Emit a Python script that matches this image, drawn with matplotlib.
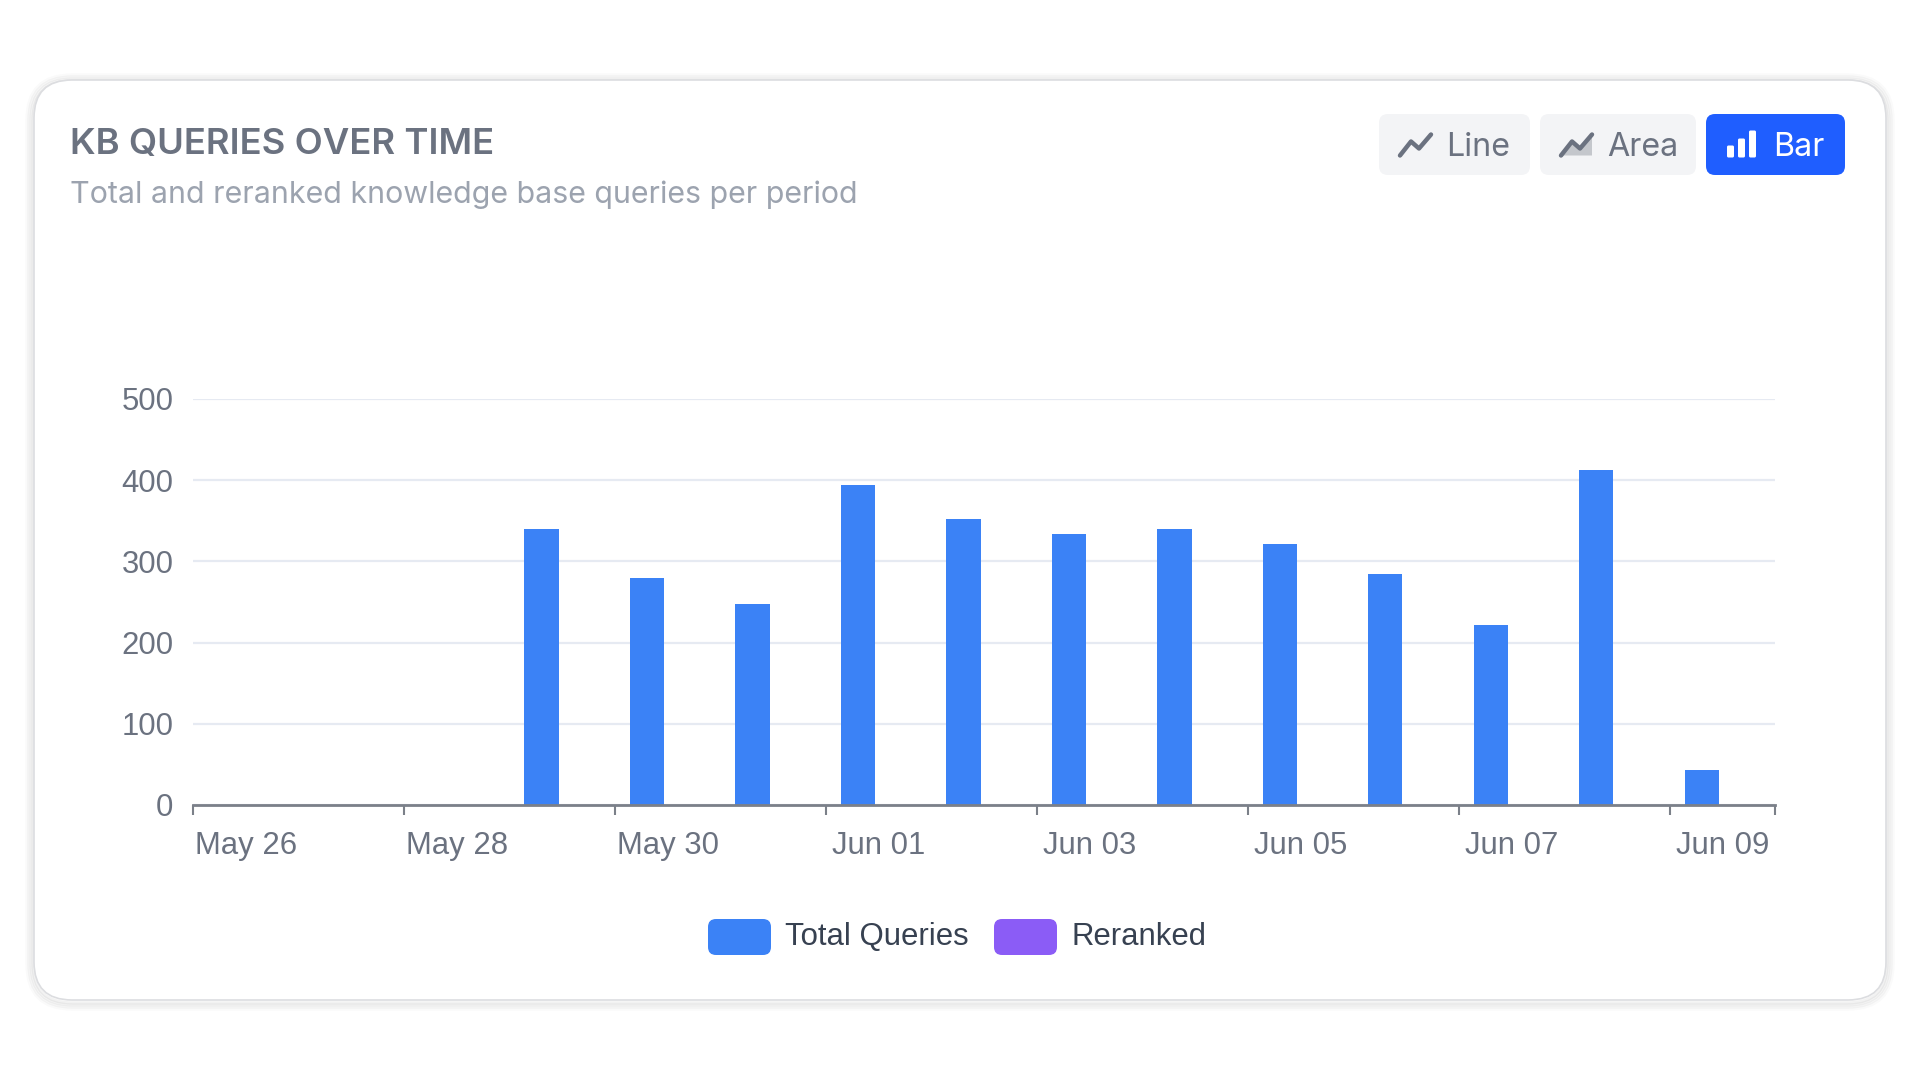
import matplotlib
matplotlib.use("Agg")
import matplotlib.pyplot as plt
from matplotlib.patches import FancyBboxPatch, Rectangle, Polygon
import numpy as np

# ---------------- data ----------------
dates = ["May 26", "May 27", "May 28", "May 29", "May 30", "May 31", "Jun 01",
         "Jun 02", "Jun 03", "Jun 04", "Jun 05", "Jun 06", "Jun 07", "Jun 08", "Jun 09"]
total_queries = [0, 0, 0, 340, 279, 248, 394, 352, 334, 340, 321, 285, 222, 412, 43]
reranked = [0, 0, 0, 0, 0, 0, 0, 0, 0, 0, 0, 0, 0, 0, 0]
series_names = ["Total Queries", "Reranked"]
series_colors = ["#3b82f6", "#8b5cf6"]
y_ticks = [0, 100, 200, 300, 400, 500]
title = "KB QUERIES OVER TIME"
subtitle = "Total and reranked knowledge base queries per period"
buttons = ["Line", "Area", "Bar"]

W, H = 1920, 1080
fig = plt.figure(figsize=(W / 100, H / 100), dpi=100)
fig.patch.set_facecolor("white")

# background axes in pixel coordinates
bg = fig.add_axes([0, 0, 1, 1], zorder=0)
bg.set_xlim(0, W)
bg.set_ylim(H, 0)
bg.axis("off")

# card with soft shadow
cx0, cy0, cx1, cy1 = 34, 80, 1886, 1000
for i, a in enumerate([0.05, 0.04, 0.03, 0.02]):
    off = 1 + i * 2
    bg.add_patch(FancyBboxPatch((cx0 - off, cy0 - off + 2), cx1 - cx0 + 2 * off, cy1 - cy0 + 2 * off,
                                boxstyle="round,pad=0,rounding_size=%d" % (38 + off),
                                fc="none", ec=(0, 0, 0, a), lw=2.5))
bg.add_patch(FancyBboxPatch((cx0, cy0), cx1 - cx0, cy1 - cy0,
                            boxstyle="round,pad=0,rounding_size=38",
                            fc="white", ec="#dcdde0", lw=1.2))

# title + subtitle
bg.text(70, 145, title, fontsize=26.3, family="Inter", fontweight="semibold",
        color="#6b7280", va="center", ha="left")
bg.text(70, 195, subtitle, fontsize=21.9, family="Inter",
        color="#9ca3af", va="center", ha="left")

# buttons
btn_boxes = [(1379, 1530), (1540, 1696), (1706, 1845)]
by0, by1 = 114, 175
for name, (x0, x1) in zip(buttons, btn_boxes):
    active = name == "Bar"
    bg.add_patch(FancyBboxPatch((x0, by0), x1 - x0, by1 - by0,
                                boxstyle="round,pad=0,rounding_size=9",
                                fc="#1f5eff" if active else "#f3f4f6", ec="none"))
    col = "white" if active else "#6b7280"
    ic_x = x0 + 21
    yc = (by0 + by1) / 2
    if name == "Line":
        bg.plot([ic_x, ic_x + 11, ic_x + 19, ic_x + 31], [yc + 11, yc - 3, yc + 4, yc - 10],
                color=col, lw=3.2, solid_capstyle="round", solid_joinstyle="round")
    elif name == "Area":
        pts = [(ic_x, yc + 11), (ic_x + 11, yc - 3), (ic_x + 19, yc + 4), (ic_x + 31, yc - 10)]
        bg.add_patch(Polygon(pts + [(ic_x + 31, yc + 11)], closed=True, fc="#c4c7cc", ec="none"))
        bg.plot([p[0] for p in pts], [p[1] for p in pts],
                color=col, lw=3.2, solid_capstyle="round", solid_joinstyle="round")
    else:
        for k, h in enumerate([12, 19, 27]):
            bg.add_patch(FancyBboxPatch((ic_x + k * 11, yc + 13 - h), 7, h,
                                        boxstyle="round,pad=0,rounding_size=1.5", fc=col, ec="none"))
    bg.text(ic_x + 46, yc + 3, name, fontsize=23.2, family="Inter", color=col,
            va="center", ha="left")

# ---------------- chart axes ----------------
ax_l, ax_r, ax_t, ax_b = 193, 1775, 399, 805
ax = fig.add_axes([ax_l / W, 1 - ax_b / H, (ax_r - ax_l) / W, (ax_b - ax_t) / H], zorder=2)
ax.patch.set_alpha(0)

x = np.arange(len(dates))
bar_w = 0.326
ax.bar(x + 0.142, total_queries, width=bar_w, align="edge", color=series_colors[0], zorder=3)
ax.bar(x + 0.532, reranked, width=bar_w, align="edge", color=series_colors[1], zorder=3)

ax.set_xlim(0, len(dates))
ax.set_ylim(0, 500)

for s in ["top", "right", "left"]:
    ax.spines[s].set_visible(False)
ax.spines["bottom"].set_color("#7b8089")
ax.spines["bottom"].set_linewidth(2)
ax.spines["bottom"].set_zorder(4)

ax.set_yticks(y_ticks)
ax.set_yticklabels([str(v) for v in y_ticks], family="Liberation Sans", fontsize=22.4, color="#6b7280")
ax.tick_params(axis="y", length=0, pad=14)
ax.grid(axis="y", color="#e6eaf2", lw=1.6, zorder=0)
ax.set_axisbelow(True)

major = [i for i in range(0, len(dates), 2)] + [len(dates)]
ax.set_xticks(major)
ax.set_xticklabels([""] * len(major))
ax.tick_params(axis="x", which="major", length=7, width=1.5, color="#7b8089")
lab_idx = list(range(0, len(dates), 2))
ax.set_xticks([i + 0.5 for i in lab_idx], [dates[i] for i in lab_idx], minor=True)
ax.tick_params(axis="x", which="minor", length=0, pad=19, labelsize=22.4, labelcolor="#6b7280")
for t in ax.get_xticklabels(minor=True):
    t.set_family("Liberation Sans")

# ---------------- legend ----------------
leg_items = [(708, 785), (994, 1071)]
ly = 937
for (sx, tx), name, col in zip(leg_items, series_names, series_colors):
    bg.add_patch(FancyBboxPatch((sx, ly - 18), 63, 36, boxstyle="round,pad=0,rounding_size=8",
                                fc=col, ec="none"))
    bg.text(tx, ly, name, fontsize=22.4, family="Liberation Sans", color="#374151",
            va="center", ha="left")

fig.savefig("out.png", dpi=100)
